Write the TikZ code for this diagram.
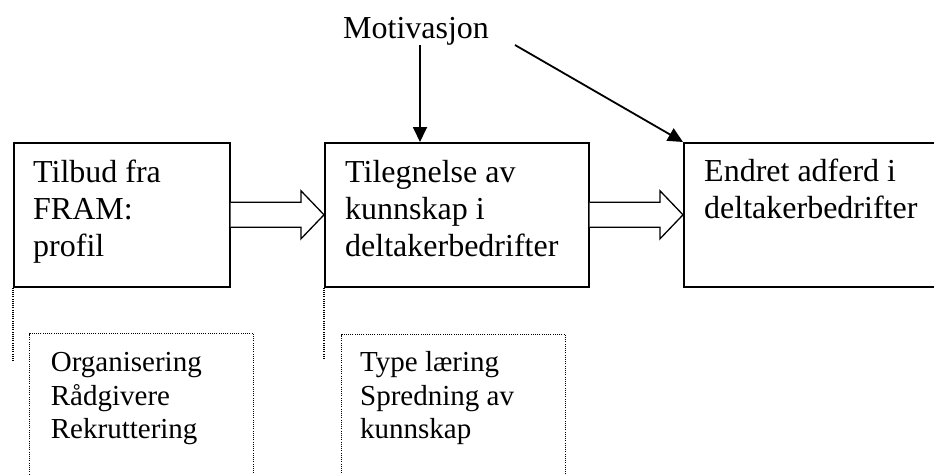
\documentclass[tikz,border=0pt]{standalone}
\usepackage{fontspec}
\setmainfont{Liberation Serif}
\usetikzlibrary{arrows.meta,calc}
\begin{document}
\begin{tikzpicture}[x=1pt,y=-1pt,
  box/.style={draw,line width=1.6pt,inner sep=0,anchor=north west},
  big/.style={font=\fontsize{32}{37}\selectfont,align=left,inner sep=0,anchor=base west},
  small/.style={font=\fontsize{29}{33.5}\selectfont,align=left,inner sep=0,anchor=base west},
  dotline/.style={draw,line width=1.1pt,dash pattern=on 1pt off 1.2pt},
  dotbox/.style={dotline,inner sep=0,anchor=north west},
  arr/.style={line width=1.8pt,-{Triangle[length=15pt,width=14pt]}},
  blockarr/.style={draw,line width=1.3pt,fill=white,line join=miter}]
\useasboundingbox (0,0) rectangle (934,474);
\clip (0,0) rectangle (934,474);
% main boxes
\node[box,minimum width=216pt,minimum height=144pt] (b1) at (13,142) {};
\node[box,minimum width=264pt,minimum height=144pt] (b2) at (324,142) {};
\node[box,minimum width=270pt,minimum height=144pt] (b3) at (683,142) {};
% texts in boxes (anchor = baseline of last line)
\node[big] (t1) at (33,256.7) {Tilbud fra\\FRAM:\\profil};
\node[big] (t2) at (345,256.3) {Tilegnelse av\\kunnskap i\\deltakerbedrifter};
\node[big] (t3) at (704,218.5) {Endret adferd i\\deltakerbedrifter};
% motivation
\node[big] (mot) at (343,38) {Motivasjon};
\coordinate (m1) at ($(b2.north west)+(96,0)$);
\coordinate (m2) at (515,45);
\draw[arr] (mot.south -| m1) -- (m1);
\draw[arr] (m2) -- (b3.north west);
% block arrows
\draw[blockarr] ($(b1.east)+(0,-12.5)$) -- ($(b2.west)+(-23,-12.5)$) -- ($(b2.west)+(-23,-24)$) -- (b2.west) -- ($(b2.west)+(-23,24)$) -- ($(b2.west)+(-23,12.5)$) -- ($(b1.east)+(0,12.5)$);
\draw[blockarr] ($(b2.east)+(0,-12.5)$) -- ($(b3.west)+(-23,-12.5)$) -- ($(b3.west)+(-23,-24)$) -- (b3.west) -- ($(b3.west)+(-23,24)$) -- ($(b3.west)+(-23,12.5)$) -- ($(b2.east)+(0,12.5)$);
% dotted parts
\draw[dotline] (b1.south west) -- ++(0,73);
\draw[dotline] (b2.south west) -- ++(0,72);
\node[dotbox,minimum width=224pt,minimum height=160pt] (d1) at (29,333) {};
\node[dotbox,minimum width=224pt,minimum height=160pt] (d2) at (341,334) {};
\node[small] (s1) at (50.7,438.5) {Organisering\\Rådgivere\\Rekruttering};
\node[small] (s2) at (360,438.5) {Type læring\\Spredning av\\kunnskap};
\end{tikzpicture}
\end{document}
